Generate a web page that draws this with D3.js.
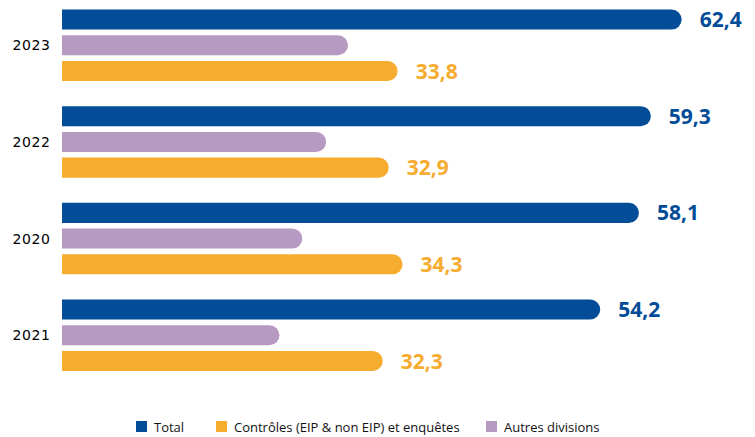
<!DOCTYPE html>
<html><head><meta charset="utf-8">
<script src="https://cdn.jsdelivr.net/npm/d3@7"></script>
<style>body{margin:0;background:#fff}svg{display:block}</style>
</head><body>
<script>
const categories = ["2023", "2022", "2020", "2021"];
const totalValues = [62.4, 59.3, 58.1, 54.2];
const autresValues = [28.8, 26.6, 24.2, 21.9];
const controlesValues = [33.8, 32.9, 34.3, 32.3];
const seriesNames = ["Total", "Autres divisions", "Contrôles (EIP & non EIP) et enquêtes"];
const legendOrder = ["Total", "Contrôles (EIP & non EIP) et enquêtes", "Autres divisions"];
const colors = {"Total": "#034c97", "Autres divisions": "#b69ac2", "Contrôles (EIP & non EIP) et enquêtes": "#f6ac2f"};
const labelled = {"Total": true, "Autres divisions": false, "Contrôles (EIP & non EIP) et enquêtes": true};

const W = 755, H = 437;
const svg = d3.select("body").append("svg").attr("width", W).attr("height", H);

const seriesData = {
  "Total": totalValues,
  "Autres divisions": autresValues,
  "Contrôles (EIP & non EIP) et enquêtes": controlesValues
};

const x = d3.scaleLinear().domain([0, 70]).range([62, 62 + 70 * 9.93]);
const y0 = d3.scaleBand().domain(categories).range([9.5, 371]).paddingInner(0.26).paddingOuter(0);
const y1 = d3.scaleBand().domain(seriesNames).range([0, y0.bandwidth()]).paddingInner(0.22).paddingOuter(0);

function roundedBar(x0, x1, yt, h) {
  const r = h / 2;
  return `M${x0},${yt}H${x1 - r}A${r},${r} 0 0 1 ${x1 - r},${yt + h}H${x0}Z`;
}

const groups = svg.selectAll("g.cat").data(categories).enter().append("g")
  .attr("class", "cat")
  .attr("transform", d => `translate(0,${y0(d)})`);

categories.forEach((c, i) => {
  const g = groups.filter(d => d === c);
  seriesNames.forEach(s => {
    const v = seriesData[s][i];
    const yt = y1(s);
    const h = y1.bandwidth();
    g.append("path")
      .attr("d", roundedBar(x(0), x(v), yt, h))
      .attr("fill", colors[s]);
    if (labelled[s]) {
      g.append("text")
        .attr("x", x(v) + 18)
        .attr("y", yt + h / 2)
        .attr("dy", "0.36em")
        .attr("font-family", "'Open Sans', sans-serif")
        .attr("font-weight", 700)
        .attr("font-size", 21)
        .attr("fill", colors[s])
        .text(d3.format(".1f")(v).replace(".", ","));
    }
  });
  g.append("text")
    .attr("x", 50.5)
    .attr("y", y1("Autres divisions") + y1.bandwidth() / 2)
    .attr("dy", "0.36em")
    .attr("text-anchor", "end")
    .attr("font-family", "'DejaVu Sans', sans-serif")
    .attr("font-size", 14)
    .attr("letter-spacing", 0.6)
    .attr("fill", "#000")
    .text(c);
});

// Legend
const legendX = [136, 216, 486];
const legend = svg.append("g");
legendOrder.forEach((s, i) => {
  legend.append("rect")
    .attr("x", legendX[i]).attr("y", 421)
    .attr("width", 11).attr("height", 11)
    .attr("fill", colors[s]);
  legend.append("text")
    .attr("x", legendX[i] + 18).attr("y", 432)
    .attr("font-family", "'Open Sans', sans-serif")
    .attr("font-size", 13)
    .attr("fill", "#111")
    .text(s);
});
</script>
</body></html>
